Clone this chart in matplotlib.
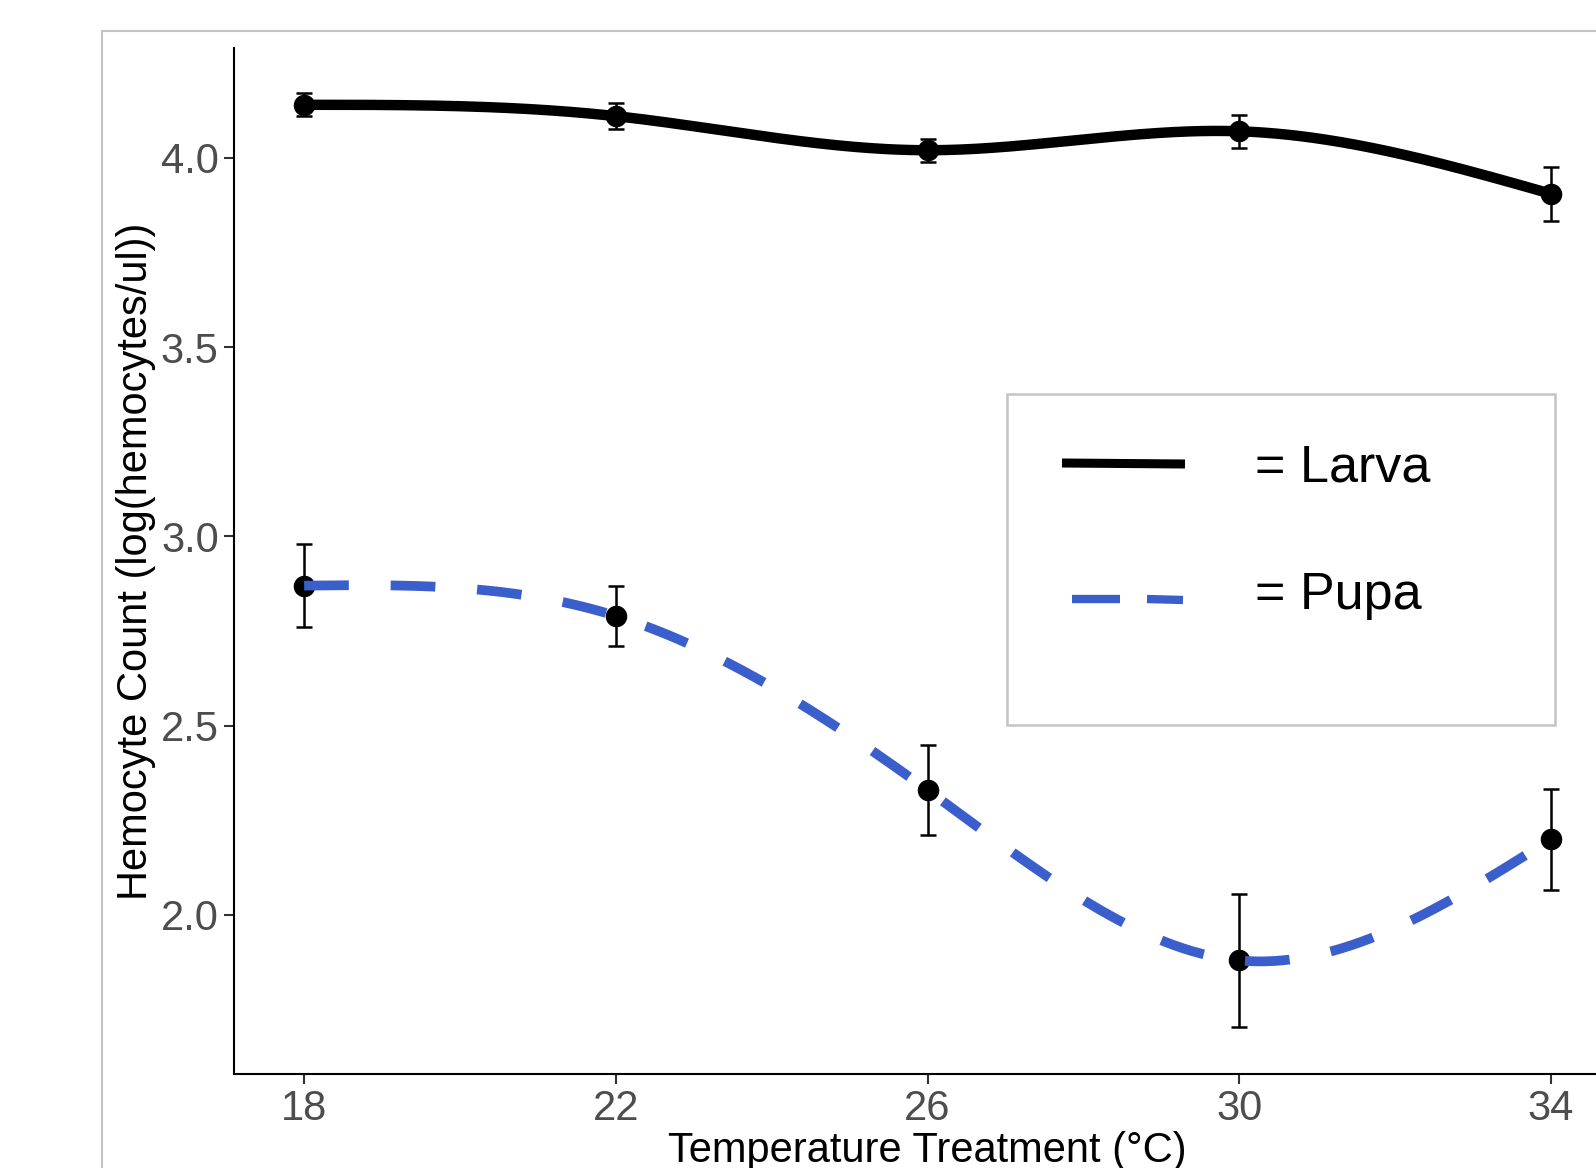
import numpy as np
import matplotlib
matplotlib.use("Agg")
import matplotlib.pyplot as plt
from matplotlib.patches import Rectangle
from matplotlib.lines import Line2D

plt.rcParams['font.family'] = ['Liberation Sans', 'DejaVu Sans']

temps = [18, 22, 26, 30, 34]
larva_mean = [4.14, 4.11, 4.02, 4.07, 3.905]
larva_err = [0.03, 0.035, 0.03, 0.043, 0.072]
pupa_mean = [2.87, 2.79, 2.33, 1.88, 2.20]
pupa_err = [0.11, 0.08, 0.12, 0.175, 0.133]
tick_labels = ['18', '22', '26', '30', '34']


def natural_spline(x, y, xs):
    # smooth curve through the points, like the spline line in the original
    x = np.asarray(x, float)
    y = np.asarray(y, float)
    n = len(x)
    h = np.diff(x)
    A = np.zeros((n, n))
    r = np.zeros(n)
    A[0, 0] = 1
    A[-1, -1] = 1
    for i in range(1, n - 1):
        A[i, i - 1] = h[i - 1]
        A[i, i] = 2 * (h[i - 1] + h[i])
        A[i, i + 1] = h[i]
        r[i] = 3 * ((y[i + 1] - y[i]) / h[i] - (y[i] - y[i - 1]) / h[i - 1])
    c = np.linalg.solve(A, r)
    b = (y[1:] - y[:-1]) / h - h * (2 * c[:-1] + c[1:]) / 3
    d = (c[1:] - c[:-1]) / (3 * h)
    idx = np.clip(np.searchsorted(x, xs) - 1, 0, n - 2)
    dx = xs - x[idx]
    return y[idx] + b[idx] * dx + c[idx] * dx ** 2 + d[idx] * dx ** 3


W, H = 1596, 1168
fig = plt.figure(figsize=(W / 100, H / 100), dpi=100)


def fx(px):
    return px / W


def fy(py):
    return 1 - py / H


# outer gray panel border (cut off at right and bottom)
fig.patches.append(Rectangle((fx(102), -0.1), 1.0, fy(31) + 0.1, transform=fig.transFigure,
                             fill=False, edgecolor='#C4C4C4', lw=1.5, clip_on=False))

ax = fig.add_axes([fx(234), fy(1074), (1621 - 234) / W, (1074 - 48) / H])

ax.errorbar(temps, larva_mean, yerr=larva_err, fmt='o', color='black', ms=14.5,
            elinewidth=1.8, capsize=6, capthick=1.8, zorder=3)
ax.errorbar(temps, pupa_mean, yerr=pupa_err, fmt='o', color='black', ms=14.5,
            elinewidth=1.8, capsize=6, capthick=1.8, zorder=3)

xs = np.linspace(temps[0], temps[-1], 400)
ax.plot(xs, natural_spline(temps, larva_mean, xs), color='black', lw=7.5,
        solid_capstyle='butt', zorder=4)
ax.plot(xs, natural_spline(temps, pupa_mean, xs), color='#3A5FCD', lw=7,
        dashes=(4.6, 4.3), dash_capstyle='butt', zorder=4)

ax.set_xlim(17.1, 34.9)
ax.set_ylim(1.58, 4.29)
ax.set_xticks(temps)
ax.set_xticklabels(tick_labels)
ax.set_yticks([2.0, 2.5, 3.0, 3.5, 4.0])
ax.set_yticklabels(['2.0', '2.5', '3.0', '3.5', '4.0'])
ax.tick_params(labelsize=30, labelcolor='#4D4D4D', color='#333333', length=7, width=1.5, pad=4)

for s in ['top', 'right']:
    ax.spines[s].set_visible(False)
for s in ['left', 'bottom']:
    ax.spines[s].set_linewidth(1.5)
    ax.spines[s].set_color('black')

ax.set_ylabel('Hemocyte Count (log(hemocytes/ul))', fontsize=30, color='black')
ax.yaxis.set_label_coords((156 - 234) / (1621 - 234), 0.5)
fig.text(fx(927), fy(1162), 'Temperature Treatment (°C)', fontsize=30,
         ha='center', va='baseline')

# legend box drawn by hand
fig.patches.append(Rectangle((fx(1007), fy(725)), (1555 - 1007) / W, (725 - 394) / H,
                             transform=fig.transFigure, fill=False,
                             edgecolor='#C4C4C4', lw=1.8))
fig.lines.append(Line2D([fx(1062), fx(1185)], [fy(463), fy(464)], transform=fig.transFigure,
                        color='black', lw=6.5, solid_capstyle='butt'))
fig.lines.append(Line2D([fx(1072), fx(1120)], [fy(599), fy(599)], transform=fig.transFigure,
                        color='#3A5FCD', lw=6, solid_capstyle='butt'))
fig.lines.append(Line2D([fx(1147), fx(1183)], [fy(599), fy(600)], transform=fig.transFigure,
                        color='#3A5FCD', lw=6, solid_capstyle='butt'))
fig.text(fx(1255), fy(482), '= Larva', fontsize=37.5, ha='left', va='baseline')
fig.text(fx(1255), fy(609), '= Pupa', fontsize=37.5, ha='left', va='baseline')

fig.savefig('out.png', dpi=100)
